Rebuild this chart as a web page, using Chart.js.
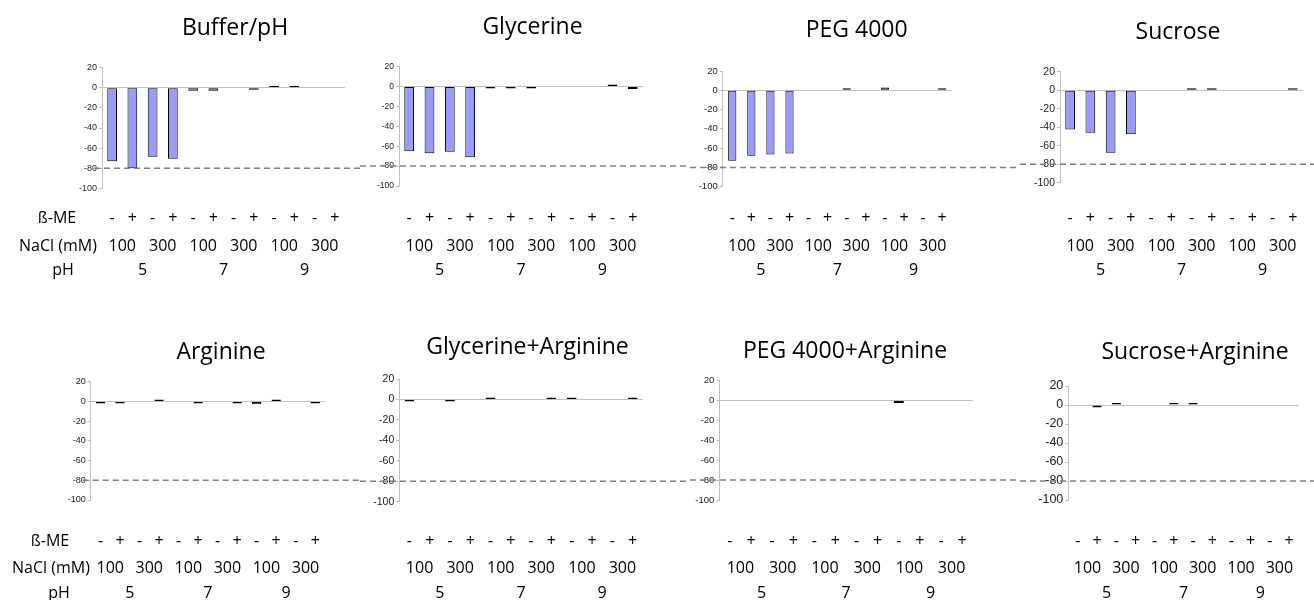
<!DOCTYPE html>
<html><head><meta charset="utf-8">
<script src="https://cdn.jsdelivr.net/npm/chart.js@4.4.0/dist/chart.umd.min.js"></script>
<style>
html,body{margin:0;background:#fff}
#fig{position:relative;width:1314px;height:600px;overflow:hidden}
#fig canvas{position:absolute}
</style></head><body><div id="fig"></div>
<script>
'use strict';
const bmeLabels=['-','+','-','+','-','+','-','+','-','+','-','+'];
const naclLabels=['100','300','100','300','100','300'];
const phLabels=['5','7','9'];
const rowNames=['ß-ME','NaCl (mM)','pH'];
const yTicks=[-100,-80,-60,-40,-20,0,20];
const refValue=-80;

const bufferPh=[-73,-80,-68.5,-70.5,-3,-3,0,-2,2,2,0,0];
const glycerine=[-65,-67,-65.5,-71,-2,-2,-2,0,0,0,2,-2.5];
const peg4000=[-73,-68,-66.5,-65.5,0,0,2,0,3,0,0,2];
const sucrose=[-42.5,-46,-67.5,-47.5,0,0,2,2,0,0,0,2];
const arginine=[-2,-2,0,2,0,-2,0,-2,-3,2,0,-2];
const glycerineArginine=[-2,0,-2,0,2,0,0,2,2,0,0,2];
const peg4000Arginine=[0,0,0,0,0,0,0,0,-2.5,0,0,0];
const sucroseArginine=[0,-2.5,2,0,0,2,2,0,0,0,0,0];

const LH=16*1.2;
const rows=[{c:[218,246.5,270]},{c:[241,268,293]}];
const panels=[
  {title:'Buffer/pH',data:bufferPh,x:0,y:0,w:360,top:67.7,bottom:188.3,left:102,right:348,yFont:9,tx:235,ty:35,names:[57,58,63]},
  {title:'Glycerine',data:glycerine,x:360,y:0,w:330,top:66.7,bottom:186,left:39,right:283,yFont:8.5,tx:172.5,ty:34},
  {title:'PEG 4000',data:peg4000,x:690,y:0,w:330,top:71,bottom:186.7,left:32.7,right:261.7,yFont:9.5,tx:166.7,ty:36.7,bar:0.43},
  {title:'Sucrose',data:sucrose,x:1020,y:0,w:305,top:71.7,bottom:182.7,left:40,right:283,yFont:10.5,tx:158,ty:39.3},
  {title:'Arginine',data:arginine,x:0,y:1,w:360,top:81.7,bottom:200,left:90.7,right:325,yFont:9,tx:221,ty:59.3,names:[50,51,59]},
  {title:'Glycerine+Arginine',data:glycerineArginine,x:360,y:1,w:330,top:79,bottom:201.7,left:39.3,right:282.7,yFont:10.5,tx:167.5,ty:54.3},
  {title:'PEG 4000+Arginine',data:peg4000Arginine,x:690,y:1,w:330,top:80.7,bottom:200,left:29.3,right:282.7,yFont:9.5,tx:155,ty:58.3},
  {title:'Sucrose+Arginine',data:sucroseArginine,x:1020,y:1,w:305,top:86,bottom:200,left:48.3,right:305,yFont:12.5,tx:175,ty:59.3}
];

const panelTitle={id:'panelTitle',afterDraw(chart,args,o){
  const ctx=chart.ctx;ctx.save();
  ctx.font='23px "Open Sans"';ctx.fillStyle='#000';ctx.textAlign='center';ctx.textBaseline='alphabetic';
  ctx.fillText(o.text,o.x,o.y);ctx.restore();
}};
const refLine={id:'refLine',afterDraw(chart,args,o){
  const ctx=chart.ctx,y=chart.scales.y.getPixelForValue(o.value);
  ctx.save();ctx.strokeStyle='#808080';ctx.lineWidth=1.5;ctx.setLineDash([6,4]);
  ctx.beginPath();ctx.moveTo(o.fromAxis?chart.chartArea.left-8:0,y);ctx.lineTo(chart.width,y);ctx.stroke();ctx.restore();
}};
const rowLabels={id:'rowLabels',afterDraw(chart,args,o){
  const ctx=chart.ctx;ctx.save();
  ctx.font='16px "Open Sans"';ctx.fillStyle='#000';ctx.textAlign='center';ctx.textBaseline='middle';
  ['x','x2','x3'].forEach((id,i)=>{
    const s=chart.scales[id];
    ctx.fillText(rowNames[i],o.xs[i],s.top+s.options.ticks.padding+LH/2);
  });
  ctx.restore();
}};

const xFont={family:'"Open Sans"',size:16};
function groupAxis(labels,weight,pad,h){
  return {type:'category',position:'bottom',labels,weight,offset:true,
    grid:{display:false,drawTicks:false},border:{display:false},
    ticks:{font:xFont,color:'#000',padding:pad,autoSkip:false,maxRotation:0},
    afterFit:s=>{s.height=h;}};
}

const fig=document.getElementById('fig');
panels.forEach(p=>{
  const [c1,c2,c3]=rows[p.y].c;
  const H=300,padBottom=Math.max(0,H-c3-10);
  const cv=document.createElement('canvas');
  cv.width=p.w;cv.height=H;
  cv.style.left=p.x+'px';cv.style.top=(p.y*H)+'px';
  fig.appendChild(cv);
  new Chart(cv,{
    type:'bar',
    data:{labels:bmeLabels,datasets:[{data:p.data,backgroundColor:'#9999ff',borderColor:'#000',borderWidth:1,
      borderSkipped:false,inflateAmount:0,barPercentage:p.bar||0.48,categoryPercentage:1}]},
    options:{
      responsive:false,animation:false,events:[],
      layout:{padding:{top:p.top,left:0,right:p.w-p.right,bottom:padBottom}},
      scales:{
        x:{weight:1,offset:true,grid:{display:false,drawTicks:false},border:{display:false},
          ticks:{font:xFont,color:'#000',padding:c1-LH/2-p.bottom,autoSkip:false,maxRotation:0},
          afterFit:s=>{s.height=c1+10-p.bottom;}},
        x2:groupAxis(naclLabels,2,c2-c1-LH,c2-c1),
        x3:groupAxis(phLabels,3,c3-c2-LH,H-padBottom-(c2+10)),
        y:{min:yTicks[0],max:yTicks[yTicks.length-1],
          afterBuildTicks:s=>{s.ticks=yTicks.map(v=>({value:v}));},
          afterFit:s=>{s.width=p.left;},
          ticks:{font:{family:'"Liberation Sans", Arial',size:p.yFont},color:'#222',padding:2},
          grid:{color:c=>c.tick&&c.tick.value===0?'#c0c0c0':'rgba(0,0,0,0)',tickColor:'#c0c0c0',tickLength:3},
          border:{color:'#c0c0c0'}}
      },
      plugins:{legend:{display:false},tooltip:{enabled:false},
        panelTitle:{text:p.title,x:p.tx,y:p.ty},
        refLine:{value:refValue,fromAxis:p.x===0},
        rowLabels:p.names?{xs:p.names}:false}
    },
    plugins:[panelTitle,refLine,rowLabels]
  });
});
</script></body></html>
